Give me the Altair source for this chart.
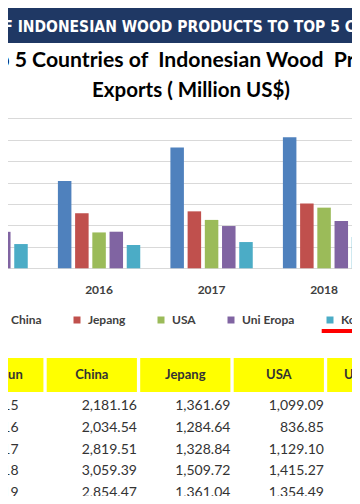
import altair as alt
import pandas as pd

# ---------------- data ----------------
years = ["2015", "2016", "2017", "2018", "2019"]
countries = ["China", "Jepang", "USA", "Uni Eropa", "Korea"]
china = [2181.16, 2034.54, 2819.51, 3059.39, 2854.47]
jepang = [1361.69, 1284.64, 1328.84, 1509.72, 1361.04]
usa = [1099.09, 836.85, 1129.10, 1415.27, 1354.49]
uni_eropa = [851.30, 853.70, 986.20, 1103.60, 1089.00]
korea = [565.80, 544.20, 612.50, 728.40, 705.00]
colors = ["#4F81BD", "#C0504D", "#9BBB59", "#8064A2", "#4BACC6"]
grid_values = [0, 500, 1000, 1500, 2000, 2500, 3000, 3500]
banner_text = "EXPORTS OF INDONESIAN WOOD PRODUCTS TO TOP 5 COUNTRIES"
title_lines = ["Top 5 Countries of \u00a0Indonesian Wood \u00a0Products", "Exports ( Million US$)"]
table_header = ["Tahun"] + countries

series = [china, jepang, usa, uni_eropa, korea]
rows = []
for i, yr in enumerate(years):
    for c, vals in zip(countries, series):
        rows.append({"year": yr, "country": c, "value": vals[i]})
df = pd.DataFrame(rows)
one = pd.DataFrame({"k": [0]})

W, H = 344, 488

# ---------------- scales ----------------
x_year = alt.Scale(type="band", domain=years, range=[-62.6, 469.75], paddingInner=0.268, paddingOuter=0)
x_col = alt.Scale(type="band", domain=table_header, range=[-54.8, 502.9], paddingInner=0.035, paddingOuter=0)
# same column bands, shifted half a band so that band centres fall on the cells' right edges
x_col_right = alt.Scale(type="band", domain=table_header, range=[-54.8 + 45.1, 502.9 + 45.1],
                        paddingInner=0.035, paddingOuter=0)
y_row = alt.Scale(type="point", domain=years, range=[398, 485], padding=0)

# ---------------- banner ----------------
banner = alt.Chart(one).mark_rect(color="#1F3864").encode(
    x=alt.value(0), x2=alt.value(W), y=alt.value(-2), y2=alt.value(35)
)
banner_t = alt.Chart(pd.DataFrame({"t": [banner_text]})).mark_text(
    font="DejaVu Sans Condensed, Liberation Sans Narrow, Roboto, sans-serif", fontWeight="bold",
    fontSize=15.5, color="white", align="center", baseline="middle"
).encode(x=alt.value(166.7), y=alt.value(19), text="t:N")

# ---------------- title ----------------
t1 = alt.Chart(pd.DataFrame({"t": [title_lines[0]]})).mark_text(
    font="Lato", fontWeight="bold", fontSize=21.2, color="#000000", align="center", baseline="middle"
).encode(x=alt.value(188.5), y=alt.value(53), text="t:N")
t2 = alt.Chart(pd.DataFrame({"t": [title_lines[1]]})).mark_text(
    font="Lato", fontWeight="bold", fontSize=20.5, color="#000000", align="center", baseline="middle"
).encode(x=alt.value(183), y=alt.value(83), text="t:N")

# ---------------- bars ----------------
bars = alt.Chart(df).mark_bar().encode(
    x=alt.X("year:N", scale=x_year, axis=None),
    xOffset=alt.XOffset("country:N", scale=alt.Scale(domain=countries, paddingInner=0.215, paddingOuter=0)),
    y=alt.Y("value:Q", scale=alt.Scale(domain=[0, 3500], range=[260.3, 110.3], nice=False),
            axis=alt.Axis(values=grid_values, grid=True, labels=False, ticks=False, domain=False,
                          title=None, gridColor="#D9D9D9", gridWidth=1)),
    color=alt.Color("country:N", scale=alt.Scale(domain=countries, range=colors),
                    legend=alt.Legend(orient="none", legendX=-14, legendY=306, direction="horizontal",
                                      title=None, symbolType="square", symbolSize=49,
                                      symbolStrokeWidth=0, labelFont="Lato", labelFontSize=12,
                                      labelFontWeight="bold", labelColor="#404040",
                                      columnPadding=29, labelOffset=5, padding=0)),
)

year_lbl = alt.Chart(pd.DataFrame({"year": years})).mark_text(
    font="Lato", fontSize=12, fontWeight="bold", color="#404040", baseline="middle"
).encode(x=alt.X("year:N", scale=x_year, axis=None, bandPosition=0.5), y=alt.value(282), text="year:N")

underline = alt.Chart(one).mark_rule(color="#FF0000", strokeWidth=4).encode(
    x=alt.value(313.7), x2=alt.value(W), y=alt.value(323)
)

# ---------------- table ----------------
hdr = pd.DataFrame({"col": table_header})
head_rect = alt.Chart(hdr).mark_rect(color="#FFFF00").encode(
    x=alt.X("col:N", scale=x_col, axis=None), y=alt.value(350), y2=alt.value(384)
)
hdr_c = pd.DataFrame({"col": countries})
head_text = alt.Chart(hdr_c).mark_text(
    font="Lato", fontSize=13, fontWeight="bold", color="#333333", baseline="middle"
).encode(x=alt.X("col:N", scale=x_col, axis=None, bandPosition=0.5), y=alt.value(367), text="col:N")
hdr_t = pd.DataFrame({"col": ["Tahun"]})
head_tahun = alt.Chart(hdr_t).mark_text(
    font="Lato", fontSize=13, fontWeight="bold", color="#333333", baseline="middle", dx=7
).encode(x=alt.X("col:N", scale=x_col, axis=None, bandPosition=0.5), y=alt.value(367), text="col:N")

tbl = df.rename(columns={"country": "col"})
val_text = alt.Chart(tbl).mark_text(
    font="Lato", fontSize=14, color="#333333", align="right", baseline="middle"
).encode(
    x=alt.X("col:N", scale=x_col_right, axis=None, bandPosition=0.5),
    y=alt.Y("year:N", scale=y_row, axis=None),
    text=alt.Text("value:Q", format=",.2f"),
)
yr_df = pd.DataFrame({"year": years, "col": ["Tahun"] * len(years)})
yr_text = alt.Chart(yr_df).mark_text(
    font="Lato", fontSize=14, color="#333333", align="center", baseline="middle", dx=4
).encode(
    x=alt.X("col:N", scale=x_col, axis=None, bandPosition=0.5),
    y=alt.Y("year:N", scale=y_row, axis=None),
    text="year:N",
)

chart = alt.layer(
    banner, banner_t, t1, t2, bars, year_lbl, underline,
    head_rect, head_text, head_tahun, val_text, yr_text
).resolve_scale(x="independent", y="independent").properties(
    width=W, height=H, autosize=alt.AutoSizeParams(type="none"), padding=0
).configure_view(stroke=None)

chart.save("out.html", embed_options={"renderer": "svg", "actions": False})
